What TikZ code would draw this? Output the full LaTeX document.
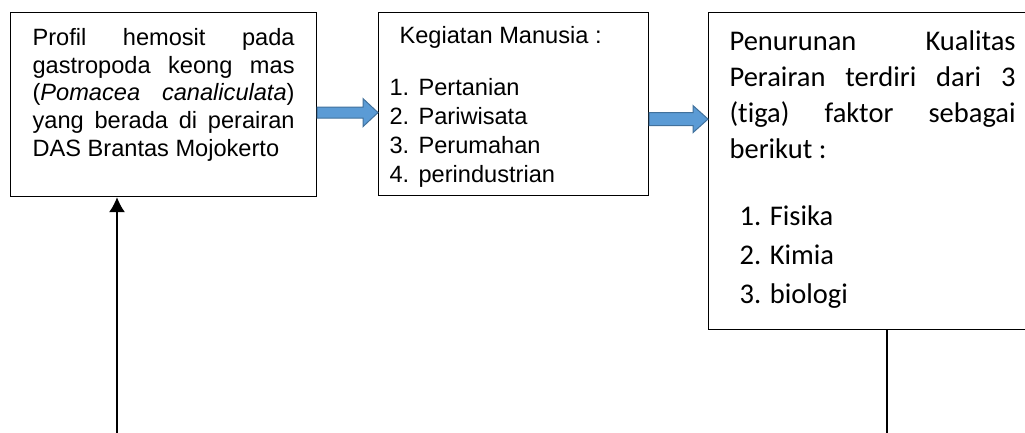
\documentclass[tikz,border=0pt]{standalone}
\usepackage{fontspec}
\setmainfont{Liberation Sans}
\newfontfamily\calibri[Ligatures=NoCommon]{Carlito}
\usepackage{tikz}
\usetikzlibrary{arrows.meta,calc}

\definecolor{panahisi}{HTML}{5B9BD5}
\definecolor{panahgaris}{HTML}{41719C}

% one justified line
\newcommand{\rata}[1]{\makebox[\linewidth][s]{#1}\par}
% fat arrow: from, to, half shaft, half head
\newcommand{\panah}[4]{%
  \filldraw[blockarrow] ($(#1)+(0,#3)$) -- ($(#2)+(-15,#3)$) -- ($(#2)+(-15,#4)$) -- (#2)
    -- ($(#2)+(-15,-#4)$) -- ($(#2)+(-15,-#3)$) -- ($(#1)+(0,-#3)$) -- cycle;}

\begin{document}
\begin{tikzpicture}[x=1pt,y=1pt,>={Latex[length=15pt,width=16pt]},
    box/.style={draw, fill=white, line width=1.2pt, inner ysep=0pt, anchor=north west},
    blockarrow/.style={fill=panahisi, draw=panahgaris, line width=1pt}]
  \useasboundingbox (0,0) rectangle (1025,-433);
  %1
  \node[box, inner xsep=22pt, minimum width=306pt, minimum height=184pt] (profil) at (10,-12)
    {\parbox[c][184pt][t]{262pt}{\fontsize{23.6pt}{27.7pt}\selectfont
      \vspace*{13.6pt}
      \rata{\strut Profil hemosit pada}
      \rata{gastropoda keong mas}
      \rata{(\textit{Pomacea canaliculata})}
      \rata{yang berada di perairan}
      DAS Brantas Mojokerto\par}};
  %2
  \node[box, inner xsep=11pt, minimum width=270pt, minimum height=183pt] (kegiatan) at (378,-12)
    {\parbox[c][183pt][t]{248pt}{\fontsize{23.6pt}{29pt}\selectfont
      \vspace*{10.7pt}
      \strut\hspace*{10pt}Kegiatan Manusia :\par
      \vspace{23pt}
      \makebox[29pt][l]{1.}Pertanian\par
      \makebox[29pt][l]{2.}Pariwisata\par
      \makebox[29pt][l]{3.}Perumahan\par
      \makebox[29pt][l]{4.}perindustrian\par}};
  %3
  \node[box, inner xsep=21pt, minimum width=328pt, minimum height=317pt] (kualitas) at (708,-12)
    {\parbox[c][317pt][t]{286pt}{\calibri\fontsize{28.5pt}{36pt}\selectfont
      \vspace*{12.8pt}
      \rata{\strut Penurunan Kualitas}
      \rata{Perairan terdiri dari 3}
      \rata{(tiga) faktor sebagai}
      berikut :\par
      \vspace{28pt}
      {\fontsize{28.5pt}{39pt}\selectfont
      \hspace*{10pt}1. Fisika\par
      \hspace*{10pt}2. Kimia\par
      \hspace*{10pt}3. biologi\par}}};
  %arrows
  \coordinate (p1) at ($(profil.east)+(0,-8)$);
  \coordinate (k1) at (p1 -| kegiatan.west);
  \panah{p1}{k1}{5.5}{14}
  \coordinate (k2) at ($(kegiatan.east)+(0,-15)$);
  \coordinate (q2) at (k2 -| kualitas.west);
  \panah{k2}{q2}{6.5}{13.5}
  %lines
  \coordinate (b1) at (117,-440);
  \draw [->, line width=1.3pt] (b1) -- (b1 |- profil.south);
  \coordinate (b2) at (887,-440);
  \draw [line width=1.3pt] (kualitas.south -| b2) -- (b2);
\end{tikzpicture}
\end{document}
